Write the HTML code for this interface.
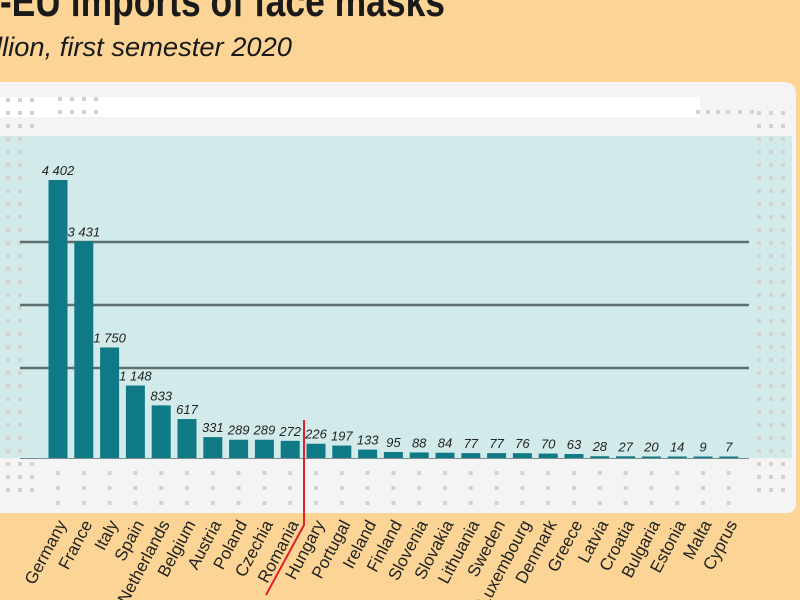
<!DOCTYPE html>
<html><head><meta charset="utf-8"><style>
html,body{margin:0;padding:0;background:#fcd596;}
svg{display:block}
</style></head><body>
<svg width="800" height="600" xmlns="http://www.w3.org/2000/svg" font-family="'Liberation Sans', sans-serif">
<rect width="800" height="600" fill="#fcd596"/>
<text x="445" y="16" text-anchor="end" font-size="44" font-weight="bold" fill="#1a1a1a" textLength="455" lengthAdjust="spacingAndGlyphs">I-EU imports of face masks</text>
<text x="292" y="56" text-anchor="end" font-size="27" font-style="italic" fill="#1a1a1a" textLength="296" lengthAdjust="spacingAndGlyphs">llion, first semester 2020</text>
<path d="M0 82 H783 Q796 82 796 95 V503 Q796 513 786 513 H0 Z" fill="#f4f4f4"/>
<rect x="0" y="97" width="700" height="20" fill="#ffffff"/>
<rect x="0" y="136" width="792" height="322" fill="#d2eaea"/>
<g fill="#d2d2d2" id="dots">
</g>
<g stroke="#5f6e6e" stroke-width="2.5">
<line x1="20" y1="242" x2="749" y2="242"/>
<line x1="20" y1="305" x2="749" y2="305"/>
<line x1="20" y1="368" x2="749" y2="368"/>
</g>
<line x1="20" y1="458.5" x2="749" y2="458.5" stroke="#7a8e8e" stroke-width="1"/>
<g id="bars" fill="#0f7a85"></g>
<g id="vals" font-size="13" font-style="italic" fill="#222" text-anchor="middle"></g>
<g id="labs" font-size="17" fill="#222" text-anchor="end"></g>
<polyline points="304,420 304,525 266,595" fill="none" stroke="#e0202a" stroke-width="2"/>
</svg>
<script>
var d=[["Germany",4402,"4 402"],["France",3431,"3 431"],["Italy",1750,"1 750"],["Spain",1148,"1 148"],["Netherlands",833,"833"],["Belgium",617,"617"],["Austria",331,"331"],["Poland",289,"289"],["Czechia",289,"289"],["Romania",272,"272"],["Hungary",226,"226"],["Portugal",197,"197"],["Ireland",133,"133"],["Finland",95,"95"],["Slovenia",88,"88"],["Slovakia",84,"84"],["Lithuania",77,"77"],["Sweden",77,"77"],["Luxembourg",76,"76"],["Denmark",70,"70"],["Greece",63,"63"],["Latvia",28,"28"],["Croatia",27,"27"],["Bulgaria",20,"20"],["Estonia",14,"14"],["Malta",9,"9"],["Cyprus",7,"7"]];
var NS="http://www.w3.org/2000/svg";
function el(t,a,p,txt){var e=document.createElementNS(NS,t);for(var k in a)e.setAttribute(k,a[k]);if(txt)e.textContent=txt;document.getElementById(p).appendChild(e);return e;}
d.forEach(function(r,i){var c=58+i*25.8;var h=Math.max(r[1]*278/4402,1.5);
el("rect",{x:c-9.5,y:458-h,width:19,height:h},"bars");
el("text",{x:c,y:458-h-5},"vals",r[2]);
el("text",{x:c+9,y:524,transform:"rotate(-62 "+(c+9)+" 524)"},"labs",r[0]);
[473,488,503].forEach(function(y){el("rect",{x:c-2,y:y-2,width:4,height:4},"dots");});
});
for(var y=100;y<=500;y+=13){[8,20,32].forEach(function(x){if(!(y>135&&y<460&&x>30))el("rect",{x:x-2,y:y-2,width:4,height:4},"dots");});
[759,771,783].forEach(function(x){if(y>110)el("rect",{x:x-2,y:y-2,width:4,height:4},"dots");});}
[60,72,84,96].forEach(function(x){el("rect",{x:x-2,y:97,width:4,height:4},"dots");el("rect",{x:x-2,y:110,width:4,height:4},"dots");});
[698,708,718,728,740,752].forEach(function(x){el("rect",{x:x-2,y:110,width:4,height:4},"dots");});
</script>
</body></html>
